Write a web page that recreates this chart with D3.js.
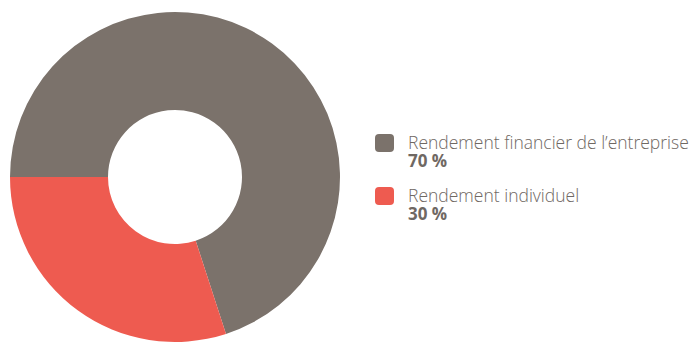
<!DOCTYPE html>
<html>
<head>
<meta charset="utf-8">
<script src="https://cdn.jsdelivr.net/npm/d3@7"></script>
<style>
  html, body { margin: 0; padding: 0; background: #fff; }
  svg { display: block; }
</style>
</head>
<body>
<svg id="chart" width="692" height="342"></svg>
<script>
// Share of each return component
const categories = ["Rendement financier de l\u2019entreprise", "Rendement individuel"];
const values = [70, 30];
const valueLabels = ["70 %", "30 %"];
const colors = ["#7b726b", "#ee5b50"];

const svg = d3.select("#chart");
const cx = 175, cy = 177;
const outerR = 165, innerR = 67;

const pie = d3.pie()
  .sort(null)
  .startAngle(-Math.PI / 2)
  .endAngle(Math.PI * 1.5)
  .value(d => d);

const arc = d3.arc().innerRadius(innerR).outerRadius(outerR);

svg.append("g")
  .attr("transform", `translate(${cx},${cy})`)
  .selectAll("path")
  .data(pie(values))
  .join("path")
  .attr("d", arc)
  .attr("fill", (d, i) => colors[i]);

// Legend
const legend = svg.append("g").attr("transform", "translate(375,134)");
const item = legend.selectAll("g")
  .data(categories)
  .join("g")
  .attr("transform", (d, i) => `translate(0,${i * 53})`);

item.append("rect")
  .attr("width", 19).attr("height", 18)
  .attr("rx", 4).attr("ry", 4)
  .attr("fill", (d, i) => colors[i]);

item.append("text")
  .attr("x", 33).attr("y", 15)
  .attr("font-family", "'Open Sans', sans-serif")
  .attr("font-weight", 300)
  .attr("font-size", 17.5)
  .attr("fill", "#6f6863")
  .text(d => d);

item.append("text")
  .attr("x", 33).attr("y", 32.5)
  .attr("font-family", "'Open Sans', sans-serif")
  .attr("font-weight", 700)
  .attr("font-size", 17)
  .attr("fill", "#6f6863")
  .text((d, i) => valueLabels[i]);
</script>
</body>
</html>
